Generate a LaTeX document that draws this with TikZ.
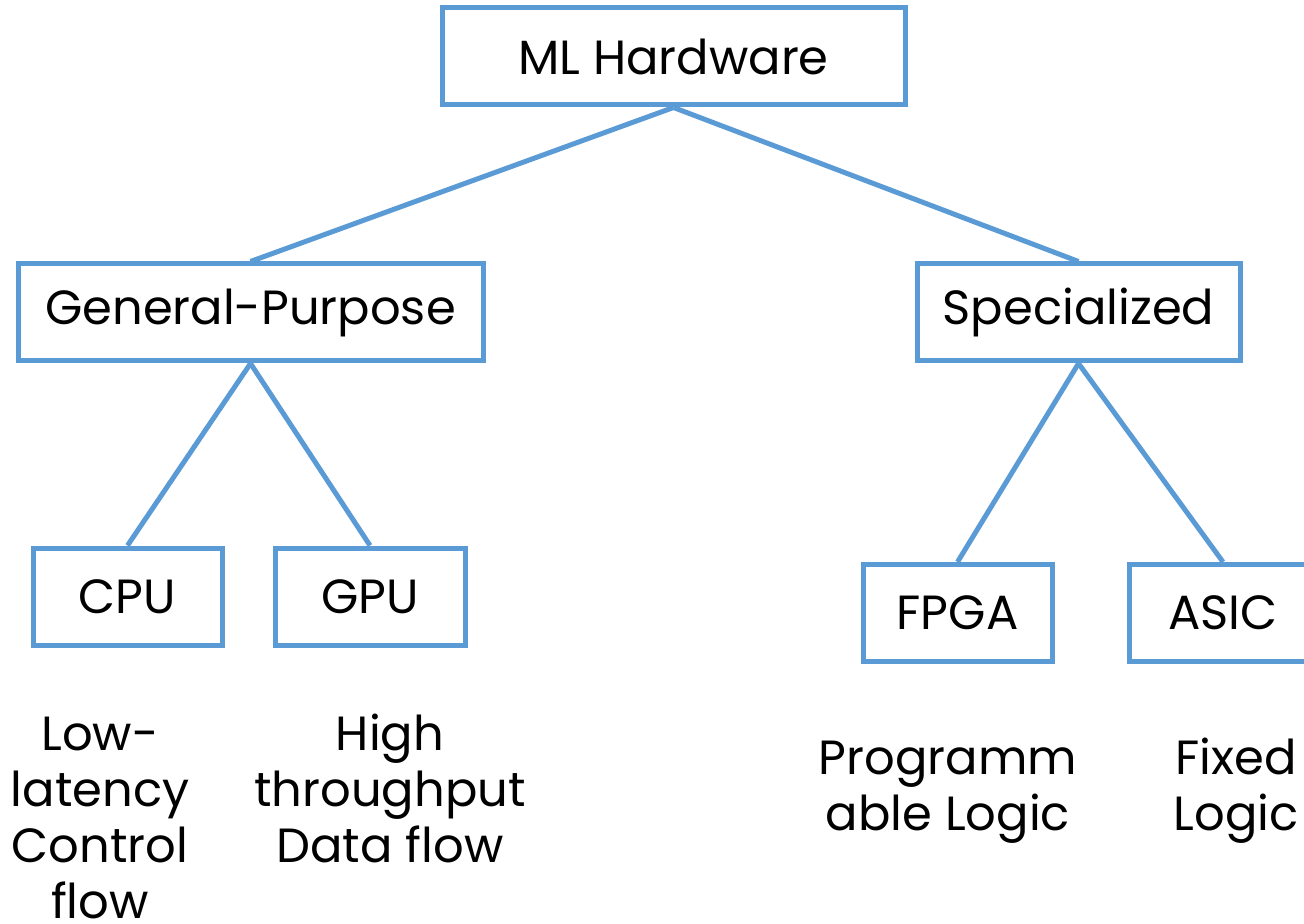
\documentclass[tikz,border=0pt]{standalone}
\usepackage{fontspec}
\setmainfont{Poppins}
\definecolor{hwblue}{HTML}{5B9BD5}
\tikzset{
	hwbox/.style={draw=hwblue, line width=2.5pt, inner sep=0pt, minimum height=48.5pt, font=\fontsize{24}{28}\selectfont},
	hwline/.style={draw=hwblue, line width=2.5pt},
	desc/.style={align=center, anchor=base, inner sep=0pt, font=\fontsize{24}{28}\selectfont}
}
\begin{document}
\begin{tikzpicture}[x=0.5pt, y=-0.5pt]
			\useasboundingbox (0,0) rectangle (1304,924);
			\clip (0,0) rectangle (1304,924);
			
			\node[hwbox, minimum width=231.5pt](ml) at (673.5,56.5) {ML Hardware};
			\node[hwbox, minimum width=232.5pt](gp) at (250.5,312.5) {General-Purpose};
			\node[hwbox, minimum width=161.5pt](spec) at (1078.5,312.5) {Specialized};
			
			\node[hwbox, minimum width=94.5pt](cpu) at (127.5,596.5) {CPU};
			\node[hwbox, minimum width=95pt](gpu) at (370,596.5) {GPU};
			\node[hwbox, minimum width=94.5pt](fpga) at (957.5,613) {FPGA};
			\node[hwbox, minimum width=94pt](asic) at (1223,613) {ASIC};
			
			\draw[hwline](ml.south)--(gp.north);
			\draw[hwline](ml.south)--(spec.north);
			\draw[hwline](gp.south)--(cpu.north);
			\draw[hwline](gp.south)--(gpu.north);
			\draw[hwline](spec.south)--(fpga.north);
			\draw[hwline](spec.south)--(asic.north);
			
			% baselines of the last lines
			\node[desc](cpud) at (100,918) {Low-\\latency\\Control\\flow};
			\node[desc](gpud) at (390,862) {High\\throughput\\Data flow};
			\node[desc](fpgad) at (948,830) {Programm\\able Logic};
			\node[desc](asicd) at (1236,830) {Fixed\\Logic};
\end{tikzpicture}
\end{document}
